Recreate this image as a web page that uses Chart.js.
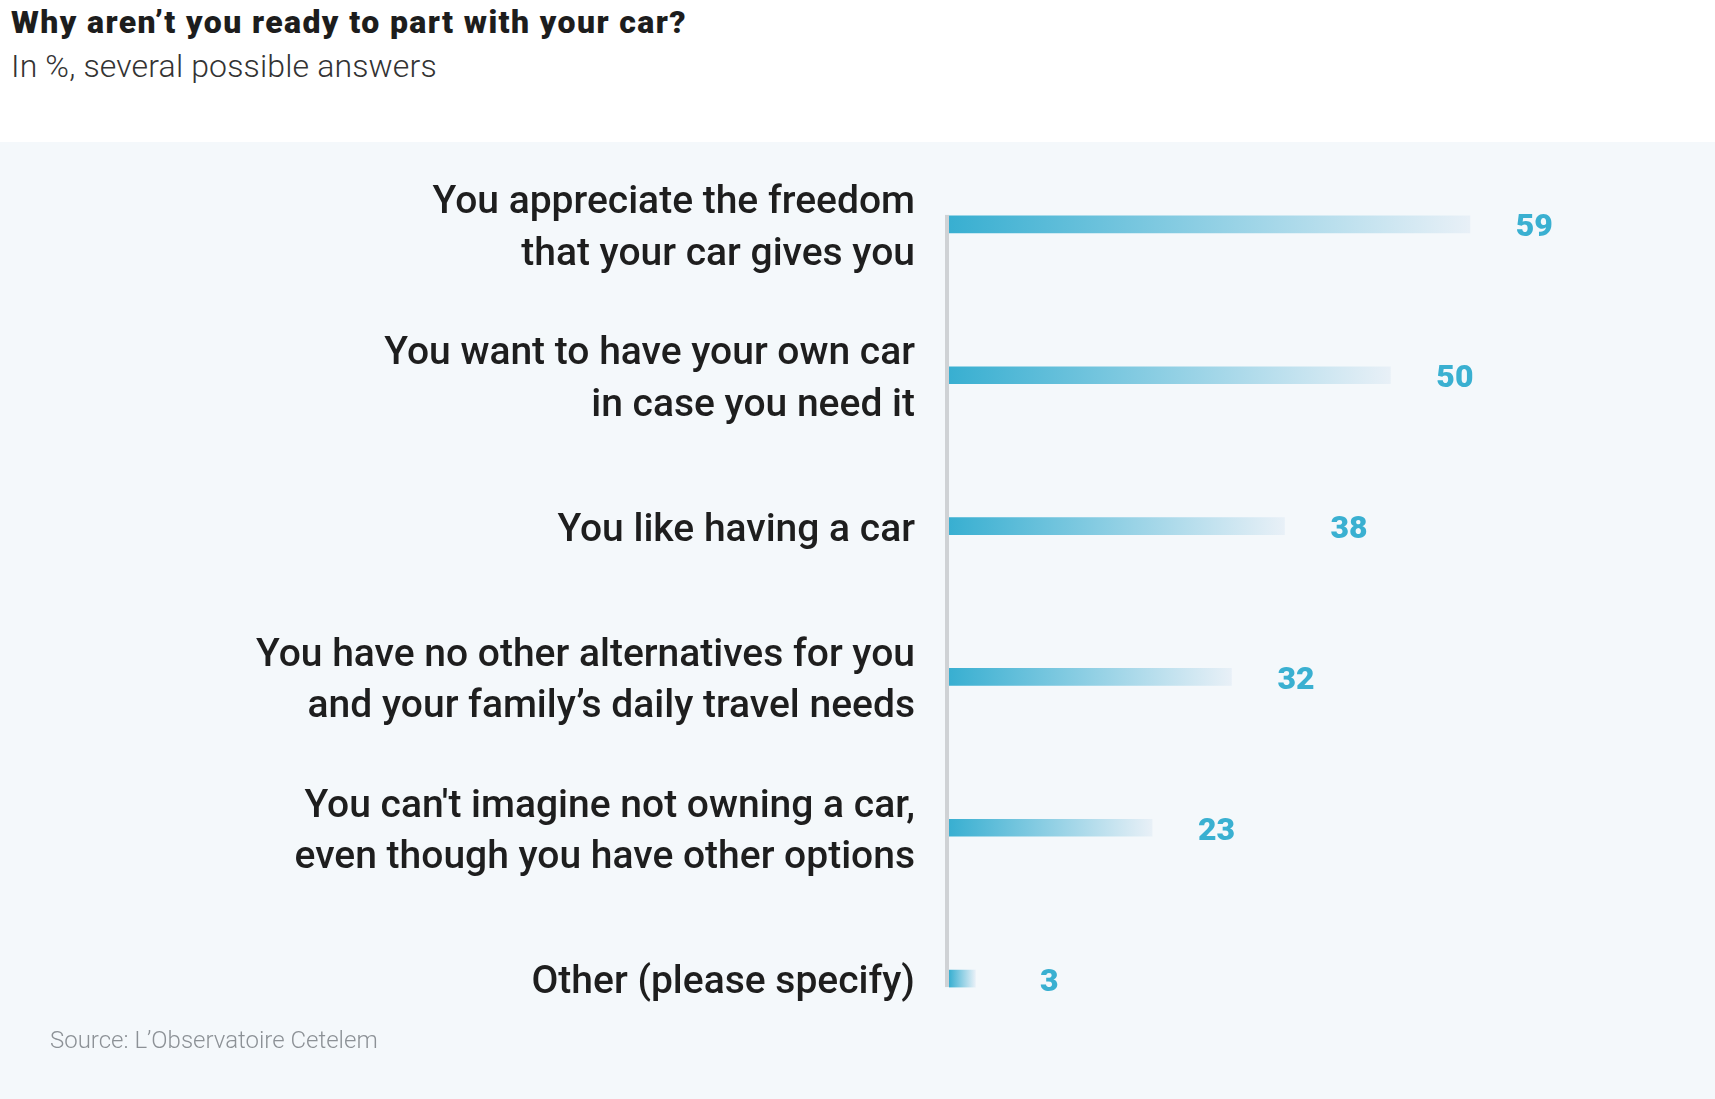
<!DOCTYPE html>
<html>
<head>
<meta charset="utf-8">
<script src="https://cdn.jsdelivr.net/npm/chart.js@4"></script>
<style>
  html, body { margin: 0; padding: 0; background: #fff; }
  #page { position: relative; width: 1715px; height: 1099px; overflow: hidden; }
  #panel { position: absolute; left: 0; top: 142px; width: 1715px; height: 957px; background: #f4f8fb; }
  #title { position: absolute; left: 11px; top: 3px; font: 900 32px Roboto, sans-serif; letter-spacing: 1.4px; color: #1d1d1d; white-space: nowrap; }
  #subtitle { position: absolute; left: 11px; top: 47px; font: 300 32px Roboto, sans-serif; letter-spacing: 0.15px; color: #333; white-space: nowrap; }
  #source { position: absolute; left: 50px; top: 1026px; font: 300 24px Roboto, sans-serif; color: #8c9196; white-space: nowrap; }
  #chart { position: absolute; left: 0; top: 0; }
</style>
</head>
<body>
<div id="page">
  <div id="panel"></div>
  <div id="title">Why aren’t you ready to part with your car?</div>
  <div id="subtitle">In %, several possible answers</div>
  <canvas id="chart" width="1715" height="1099"></canvas>
  <div id="source">Source: L’Observatoire Cetelem</div>
</div>
<script>
const categories = [
    ['You appreciate the freedom', 'that your car gives you'],
    ['You want to have your own car', 'in case you need it'],
    'You like having a car',
    ['You have no other alternatives for you', 'and your family’s daily travel needs'],
    ["You can't imagine not owning a car,", 'even though you have other options'],
    'Other (please specify)'
];
const values = [59, 50, 38, 32, 23, 3];

const barStart = '#38afd1';
const barEnd = '#e8f0f7';
const valueColor = '#3ab0d1';

function barGradient(context) {
    const chart = context.chart;
    const x = chart.scales.x;
    if (!chart.chartArea || !x) return barStart;
    const x0 = x.getPixelForValue(0);
    const x1 = x.getPixelForValue(context.raw);
    const g = chart.ctx.createLinearGradient(x0, 0, x1, 0);
    g.addColorStop(0, barStart);
    g.addColorStop(1, barEnd);
    return g;
}

// axis line from first bar top to last bar bottom, plus value labels
const decorations = {
    id: 'decorations',
    afterDatasetsDraw(chart) {
        const ctx = chart.ctx;
        const bars = chart.getDatasetMeta(0).data;
        const first = bars[0], last = bars[bars.length - 1];
        const left = chart.chartArea.left;
        const top = first.y - first.height / 2 - 1;
        const bottom = last.y + last.height / 2;
        ctx.save();
        ctx.fillStyle = '#cfd2d5';
        ctx.fillRect(left - 4, top, 4, bottom - top);

        ctx.fillStyle = valueColor;
        ctx.font = '900 32px Roboto, sans-serif';
        ctx.textAlign = 'right';
        ctx.textBaseline = 'middle';
        bars.forEach((bar, i) => {
            ctx.fillText(String(values[i]), bar.x + 83, bar.y + 4);
        });
        ctx.restore();
    }
};

new Chart(document.getElementById('chart'), {
    type: 'bar',
    data: {
        labels: categories,
        datasets: [{
            data: values,
            backgroundColor: barGradient,
            borderWidth: 0,
            barThickness: 17
        }]
    },
    options: {
        indexAxis: 'y',
        responsive: false,
        animation: false,
        layout: { padding: { top: 149, bottom: 45, left: 0, right: 148 } },
        plugins: {
            legend: { display: false },
            tooltip: { enabled: false }
        },
        scales: {
            x: {
                display: false,
                min: 0,
                max: 70
            },
            y: {
                grid: { display: false, drawTicks: false },
                border: { display: false },
                afterFit(scale) {
                    scale.width = 949;
                    scale.paddingTop = 0;
                    scale.paddingBottom = 0;
                },
                ticks: {
                    padding: 34,
                    labelOffset: 5,
                    color: '#1e1e1e',
                    font: { family: 'Roboto', size: 39, weight: '500', lineHeight: 1.32 }
                }
            }
        }
    },
    plugins: [decorations]
});
</script>
</body>
</html>
